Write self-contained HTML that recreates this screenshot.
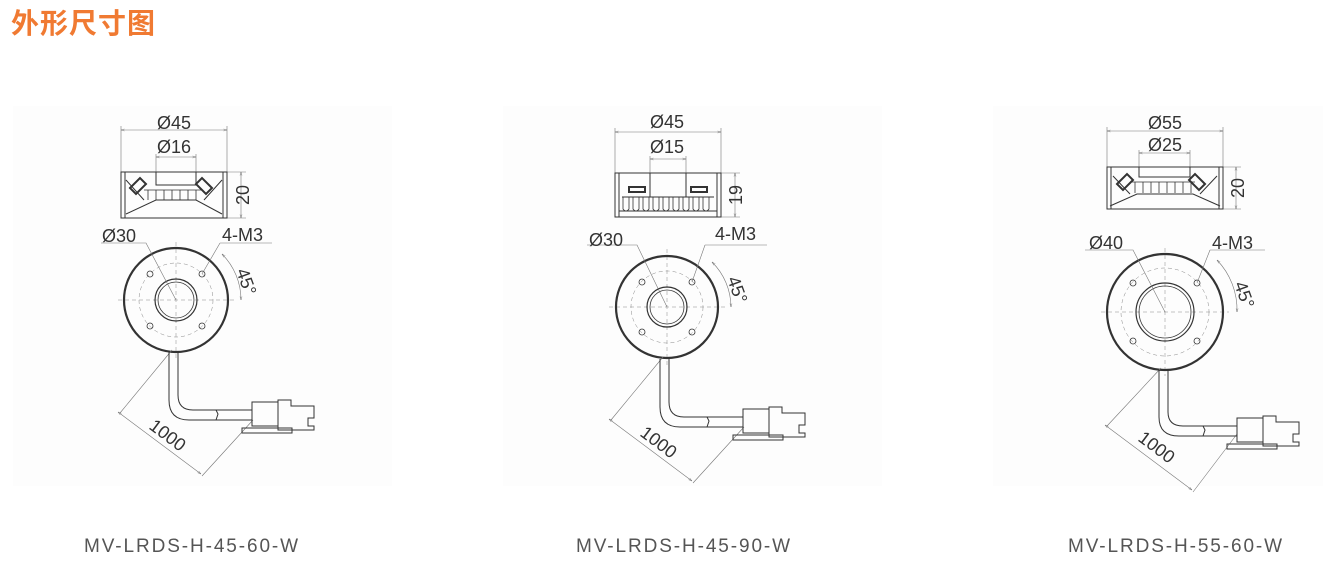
<!DOCTYPE html>
<html><head><meta charset="utf-8"><style>
html,body{margin:0;padding:0;background:#fff;width:1323px;height:578px;overflow:hidden}
.t{position:absolute;left:11px;top:2px;font:bold 28px "Liberation Sans","Noto Sans CJK SC",sans-serif;color:#f07a32;letter-spacing:1px}
svg{position:absolute;left:0;top:0}
text{font-family:"Liberation Sans",sans-serif;fill:#333}
.lbl{font-size:19px;fill:#555;letter-spacing:1.9px}
</style></head><body>
<svg width="1323" height="578" viewBox="0 0 1323 578">
<defs>
<marker id="a" viewBox="0 0 10 10" refX="10" refY="5" markerWidth="6" markerHeight="6" orient="auto-start-reverse"><path d="M0,2 L10,5 L0,8" fill="none" stroke="#666"/></marker>
</defs>
<rect x="13" y="106" width="379" height="380" fill="#fdfdfd"/>
<rect x="503" y="106" width="379" height="380" fill="#fdfdfd"/>
<rect x="993" y="106" width="330" height="380" fill="#fdfdfd"/>

<!-- Drawing 1 -->
<g transform="translate(176,300)" fill="none" stroke="#333" stroke-width="1">
 <g stroke="#777" stroke-width="0.6">
  <line x1="-55" y1="-170" x2="51" y2="-170" marker-start="url(#a)" marker-end="url(#a)"/>
  <line x1="-55" y1="-174" x2="-55" y2="-128"/><line x1="51" y1="-174" x2="51" y2="-128"/>
  <line x1="-20" y1="-143" x2="20" y2="-143" marker-start="url(#a)" marker-end="url(#a)"/>
  <line x1="-20" y1="-146" x2="-20" y2="-122"/><line x1="20" y1="-146" x2="20" y2="-122"/>
  <line x1="51" y1="-128" x2="70" y2="-128"/><line x1="51" y1="-82" x2="70" y2="-82"/>
  <line x1="65" y1="-128" x2="65" y2="-82" marker-start="url(#a)" marker-end="url(#a)"/>
 </g>
 <rect x="-55" y="-128" width="106" height="46"/>
 <path d="M-51,-128 V-82 M47,-128 V-82 M-20,-128 V-115 H20 V-128 M-50,-86 L-20,-100 H20 L46,-86 M-50,-120 L-32,-100 M46,-120 L28,-100"/>
 <path d="M-46,-112 l10,-10 6,6 -10,10 z M36,-112 l-10,-10 -6,6 10,10 z" stroke-width="2"/>
 <path d="M-28,-110 v10 M-20,-110 v10 M-12,-110 v10 M-4,-110 v10 M4,-110 v10 M12,-110 v10 M20,-110 v10 M-32,-110 H26" stroke-width="0.8"/>
 <g stroke="#888" stroke-width="0.5" stroke-dasharray="4 3"><line x1="-58" y1="0" x2="58" y2="0"/><line x1="0" y1="-58" x2="0" y2="58"/><circle r="37"/></g>
 <circle r="52" stroke-width="2.2"/>
 <circle r="21" stroke-width="1.2"/><circle r="18" stroke-width="0.8"/>
 <g stroke-width="0.8"><circle cx="-26" cy="-26" r="3"/><circle cx="26" cy="-26" r="3"/><circle cx="-26" cy="26" r="3"/><circle cx="26" cy="26" r="3"/></g>
 <g stroke="#777" stroke-width="0.6">
  <path d="M-75,-57 H-30 L0,0"/><path d="M44,-57 H96 M44,-57 L26,-26"/>
  <path d="M46,-46 A65,65 0 0 1 65,0" marker-start="url(#a)" marker-end="url(#a)"/>
  <path d="M-4,50 L-56,113 M77,120 L26,176"/>
  <line x1="-58" y1="112" x2="25" y2="174" marker-start="url(#a)" marker-end="url(#a)"/>
 </g>
 <path d="M-7,52 V100 Q-7,120 13,120 H76 M2,52 V95 Q2,110 17,110 H76"/>
 <rect x="76" y="102" width="26" height="24"/><path d="M102,100 H115 V106 H138 V118 H132 V126 H138 V130 H102 Z M66,128 H116 V133 H66 Z"/>
 <path d="M40,110 l2,4 -2,6"/>
</g>
<g font-size="18">
<text x="174" y="129" text-anchor="middle">Ø45</text>
<text x="174" y="153" text-anchor="middle">Ø16</text>
<text transform="translate(249,195) rotate(-90)" text-anchor="middle">20</text>
<text x="102" y="242">Ø30</text>
<text x="222" y="241">4-M3</text>
<text transform="translate(236,271) rotate(70)">45°</text>
<text transform="translate(148,428) rotate(37)">1000</text>
</g>

<!-- Drawing 2 -->
<g transform="translate(667,307)" fill="none" stroke="#333" stroke-width="1">
 <g stroke="#777" stroke-width="0.6">
  <line x1="-52" y1="-175" x2="54" y2="-175" marker-start="url(#a)" marker-end="url(#a)"/>
  <line x1="-52" y1="-179" x2="-52" y2="-134"/><line x1="54" y1="-179" x2="54" y2="-134"/>
  <line x1="-17" y1="-148" x2="19" y2="-148" marker-start="url(#a)" marker-end="url(#a)"/>
  <line x1="-17" y1="-151" x2="-17" y2="-128"/><line x1="19" y1="-151" x2="19" y2="-128"/>
  <line x1="54" y1="-134" x2="73" y2="-134"/><line x1="54" y1="-90" x2="73" y2="-90"/>
  <line x1="68" y1="-134" x2="68" y2="-90" marker-start="url(#a)" marker-end="url(#a)"/>
 </g>
 <rect x="-52" y="-134" width="106" height="44"/>
 <path d="M-48,-134 V-90 M50,-134 V-90 M-17,-134 V-110 M19,-134 V-110 M-48,-96 H50 M-45,-110 H47"/>
 <path d="M-44,-110 v12 q3,4 6,0 v-12 M-34,-110 v12 q3,4 6,0 v-12 M-24,-110 v12 q3,4 6,0 v-12 M-14,-110 v12 q3,4 6,0 v-12 M-4,-110 v12 q3,4 6,0 v-12 M6,-110 v12 q3,4 6,0 v-12 M16,-110 v12 q3,4 6,0 v-12 M26,-110 v12 q3,4 6,0 v-12 M36,-110 v12 q3,4 6,0 v-12" stroke-width="0.8"/>
 <path d="M-38,-120 h16 v5 h-16 z M24,-120 h16 v5 h-16 z" stroke-width="2"/>
 <g stroke="#888" stroke-width="0.5" stroke-dasharray="4 3"><line x1="-58" y1="0" x2="58" y2="0"/><line x1="0" y1="-58" x2="0" y2="58"/><circle r="36"/></g>
 <circle r="51" stroke-width="2.2"/>
 <circle r="20" stroke-width="1.2"/><circle r="17" stroke-width="0.8"/>
 <g stroke-width="0.8"><circle cx="-25" cy="-25" r="3"/><circle cx="25" cy="-25" r="3"/><circle cx="-25" cy="25" r="3"/><circle cx="25" cy="25" r="3"/></g>
 <g stroke="#777" stroke-width="0.6">
  <path d="M-80,-62 H-30 L0,0"/><path d="M38,-62 H100 M38,-62 L25,-25"/>
  <path d="M45,-45 A64,64 0 0 1 64,0" marker-start="url(#a)" marker-end="url(#a)"/>
  <path d="M-4,50 L-56,113 M77,120 L26,176"/>
  <line x1="-58" y1="112" x2="25" y2="174" marker-start="url(#a)" marker-end="url(#a)"/>
 </g>
 <path d="M-7,52 V100 Q-7,120 13,120 H76 M2,52 V95 Q2,110 17,110 H76"/>
 <rect x="76" y="102" width="26" height="24"/><path d="M102,100 H115 V106 H138 V118 H132 V126 H138 V130 H102 Z M66,128 H116 V133 H66 Z"/>
 <path d="M40,110 l2,4 -2,6"/>
</g>
<g font-size="18">
<text x="667" y="128" text-anchor="middle">Ø45</text>
<text x="667" y="153" text-anchor="middle">Ø15</text>
<text transform="translate(742,195) rotate(-90)" text-anchor="middle">19</text>
<text x="589" y="246">Ø30</text>
<text x="715" y="240">4-M3</text>
<text transform="translate(727,279) rotate(70)">45°</text>
<text transform="translate(639,435) rotate(37)">1000</text>
</g>

<!-- Drawing 3 -->
<g transform="translate(1165,312)" fill="none" stroke="#333" stroke-width="1">
 <g stroke="#777" stroke-width="0.6">
  <line x1="-58" y1="-181" x2="58" y2="-181" marker-start="url(#a)" marker-end="url(#a)"/>
  <line x1="-58" y1="-185" x2="-58" y2="-145"/><line x1="58" y1="-185" x2="58" y2="-145"/>
  <line x1="-26" y1="-159" x2="25" y2="-159" marker-start="url(#a)" marker-end="url(#a)"/>
  <line x1="-26" y1="-162" x2="-26" y2="-140"/><line x1="25" y1="-162" x2="25" y2="-140"/>
  <line x1="58" y1="-145" x2="76" y2="-145"/><line x1="58" y1="-103" x2="76" y2="-103"/>
  <line x1="71" y1="-145" x2="71" y2="-103" marker-start="url(#a)" marker-end="url(#a)"/>
 </g>
 <rect x="-58" y="-145" width="116" height="42"/>
 <path d="M-54,-145 V-103 M54,-145 V-103 M-26,-145 V-135 H25 V-145 M-55,-106 L-28,-118 H28 L55,-106 M-52,-136 L-35,-118 M52,-136 L35,-118"/>
 <path d="M-48,-128 l10,-10 6,6 -10,10 z M40,-128 l-10,-10 -6,6 10,10 z" stroke-width="2"/>
 <path d="M-30,-130 v11 M-22,-130 v11 M-14,-130 v11 M-6,-130 v11 M2,-130 v11 M10,-130 v11 M18,-130 v11 M26,-130 v11 M-34,-130 H30" stroke-width="0.8"/>
 <g stroke="#888" stroke-width="0.5" stroke-dasharray="4 3"><line x1="-64" y1="0" x2="64" y2="0"/><line x1="0" y1="-64" x2="0" y2="64"/><circle r="44"/></g>
 <circle r="58" stroke-width="2.2"/>
 <circle r="29" stroke-width="1.2"/><circle r="26" stroke-width="0.8"/>
 <g stroke-width="0.8"><circle cx="-32" cy="-29" r="3"/><circle cx="32" cy="-29" r="3"/><circle cx="-32" cy="29" r="3"/><circle cx="32" cy="29" r="3"/></g>
 <g stroke="#777" stroke-width="0.6">
  <path d="M-80,-62 H-32 L0,0"/><path d="M45,-62 H100 M45,-62 L32,-29"/>
  <path d="M52,-52 A72,72 0 0 1 72,0" marker-start="url(#a)" marker-end="url(#a)"/>
  <path d="M-4,56 L-58,114 M72,122 L28,180"/>
  <line x1="-60" y1="113" x2="27" y2="178" marker-start="url(#a)" marker-end="url(#a)"/>
 </g>
 <path d="M-6,58 V105 Q-6,124 14,124 H72 M3,58 V100 Q3,114 18,114 H72"/>
 <rect x="72" y="106" width="26" height="24"/><path d="M98,104 H111 V110 H134 V122 H128 V130 H134 V134 H98 Z M62,132 H112 V137 H62 Z"/>
 <path d="M38,114 l2,4 -2,6"/>
</g>
<g font-size="18">
<text x="1165" y="129" text-anchor="middle">Ø55</text>
<text x="1165" y="151" text-anchor="middle">Ø25</text>
<text transform="translate(1244,188) rotate(-90)" text-anchor="middle">20</text>
<text x="1089" y="249">Ø40</text>
<text x="1212" y="249">4-M3</text>
<text transform="translate(1234,284) rotate(70)">45°</text>
<text transform="translate(1137,440) rotate(37)">1000</text>
</g>

<text class="lbl" x="192" y="552" text-anchor="middle">MV-LRDS-H-45-60-W</text>
<text class="lbl" x="684" y="552" text-anchor="middle">MV-LRDS-H-45-90-W</text>
<text class="lbl" x="1176" y="552" text-anchor="middle">MV-LRDS-H-55-60-W</text>
</svg>
<div class="t">外形尺寸图</div>
</body></html>
